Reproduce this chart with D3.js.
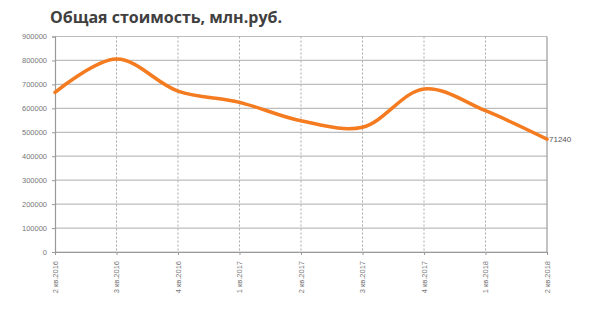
<!DOCTYPE html>
<html>
<head>
<meta charset="utf-8">
<script src="https://cdnjs.cloudflare.com/ajax/libs/d3/7.8.5/d3.min.js"></script>
<style>
  body { margin: 0; background: #fff; }
  svg { display: block; font-family: "Liberation Sans", Arial, sans-serif; }
</style>
</head>
<body>
<svg id="chart" width="600" height="313"></svg>
<script>
var quarters = ['2 кв.2016', '3 кв.2016', '4 кв.2016', '1 кв.2017', '2 кв.2017', '3 кв.2017', '4 кв.2017', '1 кв.2018', '2 кв.2018']
var totalCost = [667000, 806000, 672000, 625000, 548000, 521000, 681000, 590000, 471240]
var yTicks = [0, 100000, 200000, 300000, 400000, 500000, 600000, 700000, 800000, 900000]
var endLabel = '71240'

var svg = d3.select('#chart')
var m = {left: 55, right: 53, top: 36.5, bottom: 61}
var w = 600 - m.left - m.right, h = 313 - m.top - m.bottom

svg.append('text')
  .attr('x', 50).attr('y', 23)
  .style('font-family', '"Open Sans", sans-serif')
  .style('font-weight', 700).style('font-size', '16px')
  .attr('fill', '#404040')
  .text('Общая стоимость, млн.руб.')

var g = svg.append('g').attr('transform', `translate(${m.left},${m.top})`)

var x = d3.scalePoint().domain(quarters).range([0, w])
var y = d3.scaleLinear().domain([0, 900000]).range([h, 0])

// horizontal grid
g.append('g').selectAll('line').data(yTicks).join('line')
  .attr('x1', 0).attr('x2', w)
  .attr('y1', d => y(d)).attr('y2', d => y(d))
  .attr('stroke', '#bdbdbd').attr('stroke-width', 1.2)

// vertical dashed grid
g.append('g').selectAll('line').data(quarters.slice(1, -1)).join('line')
  .attr('x1', d => x(d)).attr('x2', d => x(d))
  .attr('y1', 0).attr('y2', h)
  .attr('stroke', '#aaa').attr('stroke-dasharray', '2,2')

// right border
g.append('line').attr('x1', w).attr('x2', w).attr('y1', 0).attr('y2', h)
  .attr('stroke', '#999').attr('stroke-width', 1.2)

var yAxis = g.append('g')
  .call(d3.axisLeft(y).tickValues(yTicks).tickSize(3).tickPadding(5).tickFormat(d3.format('d')))
yAxis.select('.domain').attr('stroke', '#999').attr('stroke-width', 1.2)
yAxis.selectAll('.tick line').attr('stroke', '#999')
yAxis.selectAll('text').attr('fill', '#777').style('font-size', '7.5px')

var xAxis = g.append('g').attr('transform', `translate(0,${h})`)
  .call(d3.axisBottom(x).tickSize(3).tickSizeOuter(0))
xAxis.select('.domain').attr('stroke', '#999').attr('stroke-width', 1.2)
xAxis.selectAll('.tick line').attr('stroke', '#999')
xAxis.selectAll('text')
  .attr('fill', '#777').style('font-size', '7.5px')
  .attr('transform', 'rotate(-90)')
  .attr('x', -9).attr('y', 0).attr('dy', '0.32em')
  .attr('text-anchor', 'end')

var line = d3.line()
  .x((d, i) => x(quarters[i]))
  .y(d => y(d))
  .curve(d3.curveCatmullRom.alpha(0.5))

g.append('path').datum(totalCost)
  .attr('d', line)
  .attr('fill', 'none')
  .attr('stroke', '#f47b20')
  .attr('stroke-width', 3.5)
  .attr('stroke-linecap', 'round')

g.append('text')
  .attr('x', w + 2).attr('y', y(totalCost[totalCost.length - 1]))
  .attr('dy', '0.35em')
  .attr('fill', '#555').style('font-size', '8px')
  .text(endLabel)
</script>
</body>
</html>
